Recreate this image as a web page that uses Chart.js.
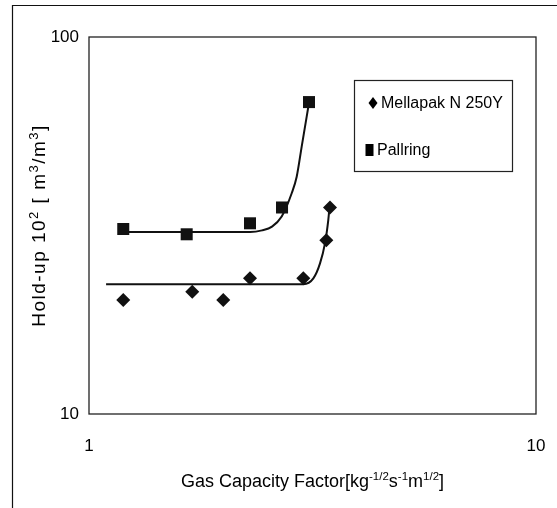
<!DOCTYPE html>
<html><head><meta charset="utf-8">
<script src="https://cdn.jsdelivr.net/npm/chart.js@4/dist/chart.umd.min.js"></script>
<style>html,body{margin:0;padding:0;background:#fff}#wrap{width:557px;height:508px;position:relative}</style>
</head><body><div id="wrap"><canvas id="c" width="557" height="508"></canvas></div>
<script>
// ---- data ----
const mellapakX = [1.193, 1.702, 1.997, 2.292, 3.016, 3.396, 3.461];
const mellapakY = [20.06, 21.1, 20.06, 22.9, 22.9, 28.9, 35.3];
const pallringX = [1.193, 1.654, 2.292, 2.703, 3.106];
const pallringY = [30.95, 29.97, 32.05, 35.3, 67.2];
const mellapakFitX = [1.092, 3.016, 3.176, 3.287, 3.373, 3.43, 3.452];
const mellapakFitY = [22.1, 22.1, 22.9, 25.1, 28.4, 32.7, 35.4];
const pallringFitX = [1.161, 2.292, 2.438, 2.567, 2.698, 2.841, 2.915, 2.991, 3.069, 3.113];
const pallringFitY = [30.4, 30.4, 30.7, 31.4, 33.4, 38.5, 42.6, 51.2, 61.5, 68.1];
const xTicks = [1, 10];
const yTicks = [10, 100];
const seriesLabels = ['Mellapak N 250Y', 'Pallring'];
const xTitleParts = [['Gas Capacity Factor[kg', 0], ['-1/2', 1], ['s', 0], ['-1', 1], ['m', 0], ['1/2', 1], [']', 0]];
const yTitleParts = [['Hold-up 10', 0], ['2', 1], [' [ m', 0], ['3', 1], ['/m', 0], ['3', 1], [']', 0]];

const FONT = "'Liberation Sans', Arial, sans-serif";
const pts = (xs, ys) => xs.map((x, i) => ({x: x, y: ys[i]}));

function drawParts(ctx, parts, cx, baseY, size, supSize, supRaise, spacing) {
  ctx.save();
  ctx.letterSpacing = spacing + 'px';
  let total = 0;
  const widths = parts.map(p => {
    ctx.font = (p[1] ? supSize : size) + 'px ' + FONT;
    const w = ctx.measureText(p[0]).width;
    total += w;
    return w;
  });
  let x = cx - total / 2;
  ctx.textAlign = 'left';
  ctx.textBaseline = 'alphabetic';
  ctx.fillStyle = '#000';
  parts.forEach((p, i) => {
    ctx.font = (p[1] ? supSize : size) + 'px ' + FONT;
    ctx.fillText(p[0], x, baseY - (p[1] ? supRaise : 0));
    x += widths[i];
  });
  ctx.restore();
}

const decorPlugin = {
  id: 'decor',
  beforeDraw(chart) {
    const ctx = chart.ctx;
    ctx.save();
    ctx.fillStyle = '#fff';
    ctx.fillRect(0, 0, chart.width, chart.height);
    ctx.strokeStyle = '#111';
    ctx.lineWidth = 1.2;
    ctx.beginPath();
    ctx.moveTo(12.5, 508); ctx.lineTo(12.5, 5.5); ctx.lineTo(557, 5.5);
    ctx.stroke();
    ctx.restore();
  },
  afterDraw(chart) {
    const ctx = chart.ctx;
    const a = chart.chartArea;
    ctx.save();
    ctx.strokeStyle = '#222';
    ctx.lineWidth = 1.3;
    ctx.strokeRect(a.left, a.top, a.right - a.left, a.bottom - a.top);
    // axis titles
    drawParts(ctx, xTitleParts, (a.left + a.right) / 2, 487, 18, 11.5, 7.5, 0);
    ctx.translate(45, (a.top + a.bottom) / 2);
    ctx.rotate(-Math.PI / 2);
    drawParts(ctx, yTitleParts, 0, 0, 19, 13, 7.5, 1.5);
    ctx.restore();

    // legend box
    ctx.save();
    ctx.strokeStyle = '#222';
    ctx.lineWidth = 1.2;
    ctx.strokeRect(354.5, 80.5, 158, 91);
    ctx.fillStyle = '#000';
    ctx.font = '16px ' + FONT;
    ctx.textBaseline = 'middle';
    ctx.textAlign = 'left';
    ctx.beginPath();
    ctx.moveTo(373, 97); ctx.lineTo(377.5, 103); ctx.lineTo(373, 109); ctx.lineTo(368.5, 103); ctx.closePath();
    ctx.fill();
    ctx.fillText(seriesLabels[0], 381, 104);
    ctx.fillRect(365.5, 144, 8, 12);
    ctx.fillText(seriesLabels[1], 377, 151);
    ctx.restore();
  }
};

Chart.defaults.font.family = FONT;
Chart.defaults.color = '#000';

new Chart(document.getElementById('c'), {
  type: 'scatter',
  data: {
    datasets: [
      {label: seriesLabels[0], data: pts(mellapakX, mellapakY), pointStyle: 'rectRot', pointRadius: 7,
       pointBackgroundColor: '#111', pointBorderColor: '#111', pointBorderWidth: 0, order: 0},
      {label: seriesLabels[1], data: pts(pallringX, pallringY), pointStyle: 'rect', pointRadius: 8.5,
       pointBackgroundColor: '#111', pointBorderColor: '#111', pointBorderWidth: 0, order: 0},
      {label: seriesLabels[0] + ' fit', data: pts(mellapakFitX, mellapakFitY), showLine: true, pointRadius: 0,
       borderColor: '#111', borderWidth: 2, cubicInterpolationMode: 'monotone', order: 1},
      {label: seriesLabels[1] + ' fit', data: pts(pallringFitX, pallringFitY), showLine: true, pointRadius: 0,
       borderColor: '#111', borderWidth: 2, cubicInterpolationMode: 'monotone', order: 1}
    ]
  },
  options: {
    responsive: false,
    animation: false,
    devicePixelRatio: 1,
    layout: {padding: {left: 0, top: 37, right: 21, bottom: 0}},
    plugins: {legend: {display: false}, tooltip: {enabled: false}},
    scales: {
      x: {
        type: 'logarithmic', min: 1, max: 10,
        grid: {display: false, drawTicks: false}, border: {display: false},
        afterBuildTicks: s => { s.ticks = xTicks.map(v => ({value: v})); },
        afterFit: s => { s.height = 94; s.paddingRight = 0; s.paddingLeft = 0; },
        ticks: {padding: 22, font: {size: 17}, color: '#000', autoSkip: false, maxRotation: 0, callback: v => String(v)}
      },
      y: {
        type: 'logarithmic', min: 10, max: 100,
        grid: {display: false, drawTicks: false}, border: {display: false},
        afterBuildTicks: s => { s.ticks = yTicks.map(v => ({value: v})); },
        afterFit: s => { s.width = 89; s.paddingTop = 0; s.paddingBottom = 0; },
        ticks: {padding: 10, font: {size: 17}, color: '#000', autoSkip: false, callback: v => String(v)}
      }
    }
  },
  plugins: [decorPlugin]
});
</script>
</body></html>
